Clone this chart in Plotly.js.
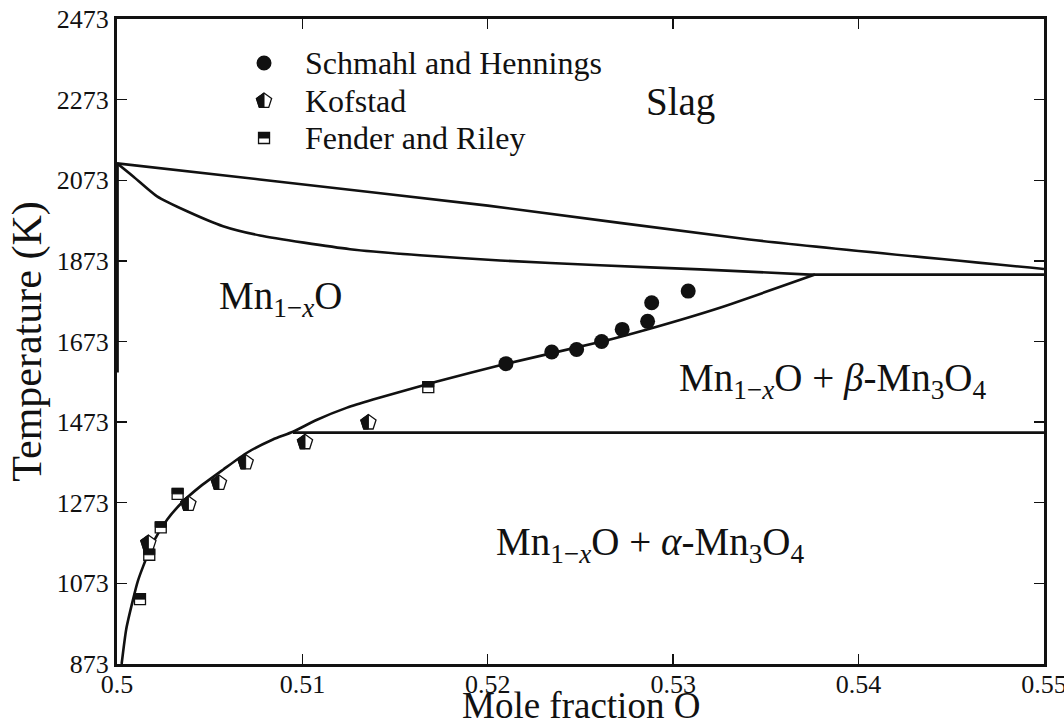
<!DOCTYPE html>
<html>
<head>
<meta charset="utf-8">
<script src="https://cdn.plot.ly/plotly-3.0.1.min.js"></script>
<style>
  html, body { margin: 0; padding: 0; background: #fff; }
  #chart { width: 1064px; height: 723px; }
</style>
</head>
<body>
<div id="chart"></div>
<script>
// Mn–O phase diagram near MnO: phase boundaries and measured points

// Liquidus (upper boundary of the Slag region)
const liquidusX = [0.5000, 0.5077, 0.5200, 0.5341, 0.5500];
const liquidusT = [2115, 2075, 2010, 1926, 1853];

// Solidus of Mn1-xO
const solidusX = [0.5000, 0.50086, 0.50216, 0.50378, 0.50572, 0.50771, 0.51257, 0.51634, 0.52066, 0.52605, 0.53145, 0.53738];
const solidusT = [2115, 2083, 2033, 1996, 1959, 1936, 1902, 1887, 1874, 1862, 1852, 1839];

// Eutectic line Mn1-xO + β-Mn3O4 / Slag
const eutecticX = [0.53738, 0.5500];
const eutecticT = [1839, 1839];

// α/β transition of Mn3O4
const transitionX = [0.50949, 0.5500];
const transitionT = [1447, 1447];

// Oxygen-rich solvus of Mn1-xO
const solvusX = [0.50025, 0.50050, 0.50086, 0.50112, 0.50140, 0.50194, 0.50270, 0.50356, 0.50448, 0.50572, 0.50701, 0.50841, 0.50949, 0.51079, 0.51241, 0.51381, 0.51726, 0.52082, 0.52616, 0.52859, 0.53252, 0.53765];
const solvusT = [873, 960, 1032, 1078, 1114, 1174, 1231, 1276, 1313, 1355, 1397, 1430, 1449, 1479, 1509, 1529, 1574, 1616, 1673, 1703, 1757, 1839];

// Metal-rich edge of Mn1-xO
const edgeX = [0.50003, 0.50003];
const edgeT = [1596, 2115];

// Measurements
const schmahlX = [0.52098, 0.52345, 0.52479, 0.52614, 0.52725, 0.52862, 0.52884, 0.53081];
const schmahlT = [1618, 1647, 1653, 1673, 1703, 1723, 1769, 1798];

const kofstadX = [0.50169, 0.50385, 0.50550, 0.50694, 0.51014, 0.51356];
const kofstadT = [1173, 1270, 1322, 1373, 1423, 1472];

const fenderX = [0.50124, 0.50174, 0.50236, 0.50327, 0.51679];
const fenderT = [1034, 1144, 1212, 1295, 1560];

const seriesNames = ['Schmahl and Hennings', 'Kofstad', 'Fender and Riley'];

const xTicks = [0.5, 0.51, 0.52, 0.53, 0.54, 0.55];
const xTickText = ['0.5', '0.51', '0.52', '0.53', '0.54', '0.55'];
const yTicks = [873, 1073, 1273, 1473, 1673, 1873, 2073, 2273, 2473];

const xTitle = 'Mole fraction O';
const yTitle = 'Temperature (K)';

const SERIF = '"Liberation Serif", "Times New Roman", serif';
const INK = '#111111';

// marker geometry (pixels)
const PENT = 16, SQ = 11, DOT = 15;
function leftHalfPentPath(size) {
  const r = size / 2;   // same proportions as the plotly pentagon symbol, y measured upward
  return `M0,${r} L${-0.951 * r},${0.309 * r} L${-0.588 * r},${-0.809 * r} L0,${-0.809 * r} Z`;
}
function fullPentPath(size) {
  const r = size / 2;
  return `M0,${r} L${-0.951 * r},${0.309 * r} L${-0.588 * r},${-0.809 * r} L${0.588 * r},${-0.809 * r} L${0.951 * r},${0.309 * r} Z`;
}
function topHalfSquarePath(size) {
  const h = size / 2;
  return `M${-h},0 L${h},0 L${h},${h} L${-h},${h} Z`;
}
function fullSquarePath(size) {
  const h = size / 2;
  return `M${-h},${-h} L${h},${-h} L${h},${h} L${-h},${h} Z`;
}

function lineTrace(x, y, shape) {
  return { x: x, y: y, type: 'scatter', mode: 'lines', showlegend: false,
           line: { color: INK, width: 2.6, shape: shape || 'spline', smoothing: 0.6 }, hoverinfo: 'skip' };
}

const traces = [
  lineTrace(liquidusX, liquidusT),
  lineTrace(solidusX, solidusT),
  lineTrace(eutecticX, eutecticT, 'linear'),
  lineTrace(transitionX, transitionT, 'linear'),
  lineTrace(solvusX, solvusT),
  lineTrace(edgeX, edgeT, 'linear'),
  { x: schmahlX, y: schmahlT, type: 'scatter', mode: 'markers', name: seriesNames[0], showlegend: false,
    marker: { symbol: 'circle', size: DOT, color: INK, line: { width: 0 } } },
  { x: kofstadX, y: kofstadT, type: 'scatter', mode: 'markers', name: seriesNames[1], showlegend: false,
    marker: { symbol: 'pentagon', size: PENT, color: '#ffffff', line: { color: INK, width: 1.3 } } },
  { x: fenderX, y: fenderT, type: 'scatter', mode: 'markers', name: seriesNames[2], showlegend: false,
    marker: { symbol: 'square', size: SQ, color: '#ffffff', line: { color: INK, width: 1.3 } } },
];

// black halves of the split markers, anchored at each data point
const shapes = [];
kofstadX.forEach((x, i) => shapes.push({
  type: 'path', xref: 'x', yref: 'y', xsizemode: 'pixel', ysizemode: 'pixel',
  xanchor: x, yanchor: kofstadT[i], path: leftHalfPentPath(PENT),
  fillcolor: INK, line: { color: INK, width: 1 }
}));
fenderX.forEach((x, i) => shapes.push({
  type: 'path', xref: 'x', yref: 'y', xsizemode: 'pixel', ysizemode: 'pixel',
  xanchor: x, yanchor: fenderT[i], path: topHalfSquarePath(SQ),
  fillcolor: INK, line: { color: INK, width: 1 }
}));

// legend key (upper left, no frame)
const keyX = 0.1586, textX = 0.2006;
const keyY = [0.9318, 0.8729, 0.8155];
shapes.push({ type: 'circle', xref: 'paper', yref: 'paper', xsizemode: 'pixel', ysizemode: 'pixel',
  xanchor: keyX, yanchor: keyY[0], x0: -DOT / 2, x1: DOT / 2, y0: -DOT / 2, y1: DOT / 2,
  fillcolor: INK, line: { color: INK, width: 0 } });
shapes.push({ type: 'path', xref: 'paper', yref: 'paper', xsizemode: 'pixel', ysizemode: 'pixel',
  xanchor: keyX, yanchor: keyY[1], path: fullPentPath(PENT), fillcolor: '#ffffff', line: { color: INK, width: 1.3 } });
shapes.push({ type: 'path', xref: 'paper', yref: 'paper', xsizemode: 'pixel', ysizemode: 'pixel',
  xanchor: keyX, yanchor: keyY[1], path: leftHalfPentPath(PENT), fillcolor: INK, line: { color: INK, width: 1 } });
shapes.push({ type: 'path', xref: 'paper', yref: 'paper', xsizemode: 'pixel', ysizemode: 'pixel',
  xanchor: keyX, yanchor: keyY[2], path: fullSquarePath(SQ), fillcolor: '#ffffff', line: { color: INK, width: 1.3 } });
shapes.push({ type: 'path', xref: 'paper', yref: 'paper', xsizemode: 'pixel', ysizemode: 'pixel',
  xanchor: keyX, yanchor: keyY[2], path: topHalfSquarePath(SQ), fillcolor: INK, line: { color: INK, width: 1 } });

const legendFont = { family: SERIF, size: 32, color: INK };
const annotations = seriesNames.map((name, i) => ({
  xref: 'paper', yref: 'paper', x: textX, y: keyY[i], xanchor: 'left', yanchor: 'middle',
  text: name, showarrow: false, font: legendFont
}));

// phase-region labels
const regionFont = { family: SERIF, size: 39, color: INK };
const regionLabels = [
  { x: 0.53037, y: 2267, text: 'Slag' },
  { x: 0.50885, y: 1780, text: 'Mn<sub>1−<i>x</i></sub>O' },
  { x: 0.53857, y: 1576, text: 'Mn<sub>1−<i>x</i></sub>O + <i>β</i>-Mn<sub>3</sub>O<sub>4</sub>' },
  { x: 0.52875, y: 1169, text: 'Mn<sub>1−<i>x</i></sub>O + <i>α</i>-Mn<sub>3</sub>O<sub>4</sub>' },
];
regionLabels.forEach(l => annotations.push({
  xref: 'x', yref: 'y', x: l.x, y: l.y, xanchor: 'center', yanchor: 'middle',
  text: l.text, showarrow: false, font: regionFont
}));

// x-axis title, set low in the bottom margin beneath the tick labels
annotations.push({
  xref: 'paper', yref: 'paper', x: 0.5, y: -0.0985, xanchor: 'center', yanchor: 'bottom',
  text: xTitle, showarrow: false, font: { family: SERIF, size: 37, color: INK }
});

const axisCommon = {
  showgrid: false, zeroline: false, showline: true, linecolor: INK, linewidth: 3,
  mirror: 'ticks', ticks: 'inside', ticklen: 10, tickwidth: 1.4, tickcolor: INK,
  ticklabeloverflow: 'allow',
  tickfont: { family: SERIF, size: 26, color: INK }
};

const layout = {
  width: 1064, height: 723,
  margin: { l: 117, r: 20, t: 19, b: 59 },
  paper_bgcolor: '#ffffff', plot_bgcolor: '#ffffff',
  showlegend: false,
  xaxis: Object.assign({}, axisCommon, {
    range: [0.5, 0.550001], tickmode: 'array', tickvals: xTicks, ticktext: xTickText,
    ticklabelstandoff: -5
  }),
  yaxis: Object.assign({}, axisCommon, {
    range: [873, 2473], tickmode: 'array', tickvals: yTicks,
    title: { text: yTitle, font: { family: SERIF, size: 42, color: INK }, standoff: 3 }
  }),
  shapes: shapes,
  annotations: annotations
};

Plotly.newPlot('chart', traces, layout, { staticPlot: true, displayModeBar: false });
</script>
</body>
</html>
